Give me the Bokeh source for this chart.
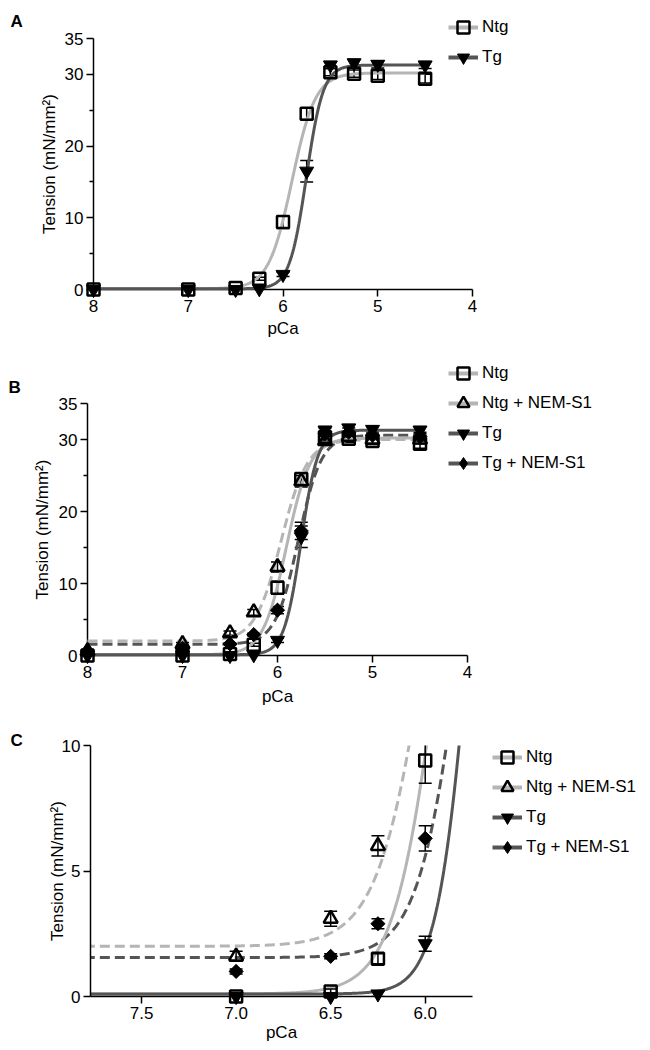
import numpy as np
from bokeh.plotting import figure
from bokeh.models import (FixedTicker, Legend, LegendItem, NumeralTickFormatter, Range1d)
from bokeh.embed import file_html
from bokeh.resources import INLINE

# ---------------- data ----------------
pca = [8.0, 7.0, 6.5, 6.25, 6.0, 5.75, 5.5, 5.25, 5.0, 4.5]

ntg = [0.0, 0.0, 0.2, 1.5, 9.4, 24.5, 30.3, 30.1, 29.8, 29.4]
ntg_err = [0.0, 0.0, 0.1, 0.2, 0.9, 0.8, 0.5, 0.5, 0.5, 0.6]

ntg_nem = [0.6, 1.6, 3.1, 6.0, 12.3, 24.2, 29.8, 30.4, 30.0, 30.0]
ntg_nem_err = [0.2, 0.2, 0.3, 0.4, 0.7, 0.8, 0.6, 0.6, 0.6, 0.6]

tg = [0.0, 0.0, 0.0, 0.1, 2.1, 16.5, 31.3, 31.6, 31.4, 31.3]
tg_err = [0.0, 0.0, 0.05, 0.1, 0.3, 1.5, 0.5, 0.5, 0.5, 0.5]

tg_nem = [0.6, 1.0, 1.6, 2.9, 6.3, 17.3, 30.8, 31.0, 30.6, 30.4]
tg_nem_err = [0.2, 0.1, 0.1, 0.2, 0.5, 1.2, 0.8, 0.6, 0.6, 0.6]

# Hill fit parameters: [Tmin, Tmax, pCa50, nH]
fit_ntg = [0.1, 30.2, 5.905, 3.5]
fit_ntg_nem = [2.0, 30.0, 5.96, 3.17]
fit_tg = [0.1, 31.3, 5.753, 4.9]
fit_tg_nem = [1.55, 30.6, 5.78, 3.6]

labels = ["Ntg", "Ntg + NEM-S1", "Tg", "Tg + NEM-S1"]
panel_letters = ["A", "B", "C"]
x_title = "pCa"
y_title = "Tension (mN/mm²)"
ticks_ab_x = [8, 7, 6, 5, 4]
ticks_ab_y = [0, 10, 20, 30, 35]
minor_ab_y = [5, 15, 25]
ticks_c_x = [7.5, 7.0, 6.5, 6.0]
ticks_c_y = [0, 5, 10]

# ---------------- styles ----------------
LIGHT = "#b5b5b5"
DARK = "#555555"
FONT = "Liberation Sans"

series = {
    "Ntg": dict(y=ntg, e=ntg_err, fit=fit_ntg, color=LIGHT, dash="solid",
                marker="square", size=12, fill=False, angle=0.0, leg_marker="square"),
    "Ntg + NEM-S1": dict(y=ntg_nem, e=ntg_nem_err, fit=fit_ntg_nem, color=LIGHT, dash="10 5",
                         marker="triangle", size=14, fill=False, angle=0.0,
                         leg_marker="triangle"),
    "Tg": dict(y=tg, e=tg_err, fit=fit_tg, color=DARK, dash="solid",
               marker="inverted_triangle", size=14, fill=True, angle=0.0,
               leg_marker="inverted_triangle"),
    "Tg + NEM-S1": dict(y=tg_nem, e=tg_nem_err, fit=fit_tg_nem, color=DARK, dash="10 5",
                        marker="square", size=10, fill=True, angle=np.pi / 4,
                        leg_marker="diamond"),
}


def hill(p, prm):
    tmin, tmax, p50, n = prm
    return tmin + (tmax - tmin) / (1.0 + 10.0 ** (n * (p - p50)))


def make_fig(xr, yr, fw, fh, left, top, bottom, total_w, letter, letter_offset, letter_standoff,
             ylab_standoff, xlab_standoff):
    p = figure(x_range=Range1d(*xr), y_range=Range1d(*yr), frame_width=fw, frame_height=fh,
               min_border_left=left, min_border_top=top, min_border_bottom=bottom,
               min_border_right=total_w - left - fw, output_backend="svg",
               toolbar_location=None)
    p.title.text = letter
    p.title.align = "left"
    p.title.offset = letter_offset
    p.title.standoff = letter_standoff
    p.title.text_font = FONT
    p.title.text_font_size = "17px"
    p.title.text_font_style = "bold"
    p.title.text_color = "black"
    p.grid.visible = False
    p.outline_line_color = None
    p.background_fill_color = "white"
    p.border_fill_color = "white"
    for ax in (p.xaxis[0], p.yaxis[0]):
        ax.axis_line_color = "black"
        ax.axis_line_width = 1.5
        ax.major_tick_line_color = "black"
        ax.major_tick_line_width = 1.5
        ax.major_tick_in = 0
        ax.major_tick_out = 7
        ax.minor_tick_line_color = "black"
        ax.minor_tick_line_width = 1.5
        ax.minor_tick_in = 0
        ax.minor_tick_out = 0
        ax.major_label_text_font = FONT
        ax.major_label_text_font_size = "17px"
        ax.major_label_text_color = "black"
        ax.major_label_standoff = 3
        ax.axis_label_text_font = FONT
        ax.axis_label_text_font_size = "17px"
        ax.axis_label_text_font_style = "normal"
        ax.axis_label_text_color = "black"
    p.xaxis.axis_label = x_title
    p.yaxis.axis_label = y_title
    p.yaxis.axis_label_standoff = ylab_standoff
    p.xaxis.axis_label_standoff = xlab_standoff
    return p


def draw_panel(p, names, curve_x, mask, legend_xy, spacing, curve_level):
    order = [n for n in ["Ntg + NEM-S1", "Tg + NEM-S1", "Ntg", "Tg"] if n in names]
    for n in order:
        s = series[n]
        p.line(curve_x, hill(curve_x, s["fit"]), line_color=s["color"], line_width=3,
               line_dash=s["dash"], level=curve_level)
    for n in names:
        s = series[n]
        xs = [pca[i] for i in mask]
        ys = [s["y"][i] for i in mask]
        es = [s["e"][i] for i in mask]
        ex = [x for x, e in zip(xs, es) if e > 0]
        lo = [y - e for y, e in zip(ys, es) if e > 0]
        hi = [y + e for y, e in zip(ys, es) if e > 0]
        p.segment(x0=ex, y0=lo, x1=ex, y1=hi, line_color="black", line_width=1.5)
        p.scatter(ex + ex, lo + hi, marker="dash", size=13, line_color="black",
                  line_width=1.5)
    for n in names:
        s = series[n]
        xs = [pca[i] for i in mask]
        ys = [s["y"][i] for i in mask]
        p.scatter(xs, ys, marker=s["marker"], size=s["size"], angle=s["angle"],
                  line_color="black", line_width=2.5 if not s["fill"] else 1,
                  fill_color="black" if s["fill"] else None, level="overlay")
    items = []
    for n in names:
        s = series[n]
        lr = p.line(x=[np.nan, np.nan], y=[np.nan, np.nan], line_color=s["color"],
                    line_width=4)
        mr = p.scatter(x=[np.nan], y=[np.nan], marker=s["leg_marker"], size=s["size"],
                       line_color="black", line_width=2.5 if not s["fill"] else 1,
                       fill_color="black" if s["fill"] else None)
        items.append(LegendItem(label=n, renderers=[lr, mr]))
    leg = Legend(items=items, location=legend_xy, border_line_color=None,
                 background_fill_alpha=0, padding=0, margin=0, spacing=spacing,
                 glyph_width=30, glyph_height=30, label_height=20, label_standoff=4,
                 label_text_font=FONT, label_text_font_size="17px", label_text_color="black")
    p.add_layout(leg, "right")


TOTAL_W = 628
all_idx = list(range(len(pca)))
curve_ab = np.linspace(8.0, 4.5, 500)

# ---------------- Panel A ----------------
pa = make_fig((8.0, 4.0), (0, 35), 379, 251, 93, 38, 56, TOTAL_W,
              panel_letters[0], -83, 16, 3, 4)
pa.xaxis.ticker = FixedTicker(ticks=ticks_ab_x)
pa.yaxis.ticker = FixedTicker(ticks=ticks_ab_y, minor_ticks=minor_ab_y)
pa.yaxis.minor_tick_out = 4
draw_panel(pa, ["Ntg", "Tg"], curve_ab, all_idx, (-24, 217), 0, "overlay")

# ---------------- Panel B ----------------
pb = make_fig((8.0, 4.0), (0, 35), 380, 252, 87, 58, 56, TOTAL_W,
              panel_letters[1], -79, 13, 4, 6)
pb.xaxis.ticker = FixedTicker(ticks=ticks_ab_x)
pb.yaxis.ticker = FixedTicker(ticks=ticks_ab_y, minor_ticks=minor_ab_y)
pb.yaxis.minor_tick_out = 4
draw_panel(pb, labels, curve_ab, all_idx, (-19, 177), 0, "overlay")

# ---------------- Panel C ----------------
pc = make_fig((7.77, 5.75), (0, 10), 382, 251, 90, 34, 44, TOTAL_W,
              panel_letters[2], -80, -8, -8, 1)
pc.xaxis.ticker = FixedTicker(ticks=ticks_c_x)
pc.xaxis.formatter = NumeralTickFormatter(format="0.0")
pc.yaxis.ticker = FixedTicker(ticks=ticks_c_y)
c_idx = [i for i in all_idx if 6.0 <= pca[i] <= 7.0]
curve_c = np.linspace(7.8, 5.7, 500)
draw_panel(pc, labels, curve_c, c_idx, (20, 134), 0, "glyph")

open("out.html", "w").write(file_html([pa, pb, pc], INLINE))
